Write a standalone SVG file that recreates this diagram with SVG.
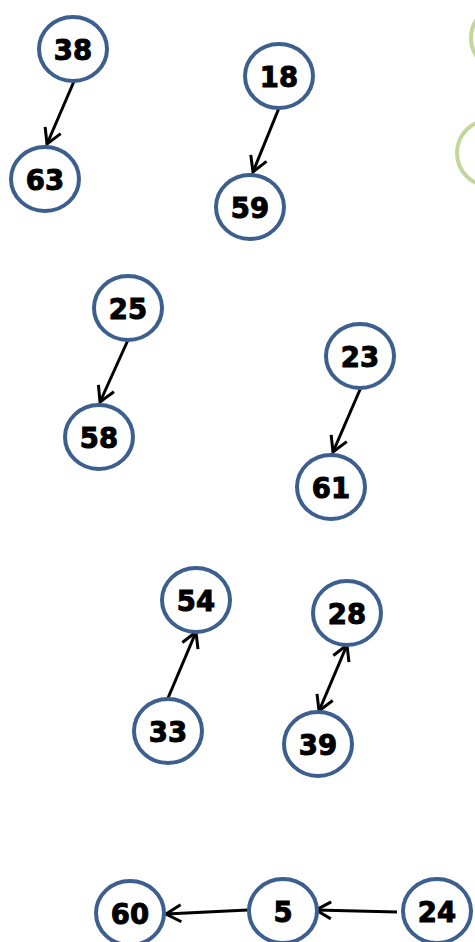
<svg xmlns="http://www.w3.org/2000/svg" width="475" height="942" viewBox="0 0 475 942">
<style>
.n ellipse{fill:#fff;stroke:#3c5f8f;stroke-width:4}
.n text{font-family:"DejaVu Sans",Verdana,sans-serif;font-weight:bold;font-size:27.5px;fill:#000;stroke:#000;stroke-width:1;text-anchor:middle;dominant-baseline:central}
.g{fill:none;stroke:#c3d69b;stroke-width:4}
.e line{stroke:#000;stroke-width:3;marker-end:url(#ah)}
</style>
<defs>
<marker id="ah" markerUnits="userSpaceOnUse" viewBox="0 0 20 20" refX="18" refY="10" markerWidth="20" markerHeight="20" orient="auto-start-reverse">
<path d="M3,1.5 L18,10 L3,18.5" fill="none" stroke="#000" stroke-width="3" stroke-linejoin="miter"/>
</marker>
</defs>
<rect width="475" height="942" fill="#fff"/>
<circle class="g" cx="504" cy="38" r="33"/>
<circle class="g" cx="490" cy="153" r="33"/>
<g class="e" id="connectors">
<line x1="75" y1="79" x2="47" y2="144"/>
<line x1="279" y1="108" x2="253" y2="172"/>
<line x1="128" y1="340" x2="100" y2="402"/>
<line x1="362" y1="385" x2="333" y2="452"/>
<line x1="168" y1="698" x2="196" y2="632"/>
<line x1="347" y1="645" x2="319" y2="711" style="marker-start:url(#ah)"/>
<line x1="248" y1="910" x2="166" y2="914"/>
<line x1="397" y1="912" x2="316" y2="910"/>
</g>
<g class="n" id="n38"><ellipse cx="73" cy="49" rx="34" ry="32"/><text x="73" y="50">38</text></g>
<g class="n" id="n63"><ellipse cx="45" cy="179" rx="34" ry="32"/><text x="45" y="180">63</text></g>
<g class="n" id="n18"><ellipse cx="279" cy="76" rx="34" ry="32"/><text x="279" y="77">18</text></g>
<g class="n" id="n59"><ellipse cx="250" cy="207" rx="34" ry="32"/><text x="250" y="208">59</text></g>
<g class="n" id="n25"><ellipse cx="128" cy="308" rx="34" ry="32"/><text x="128" y="309">25</text></g>
<g class="n" id="n58"><ellipse cx="99" cy="437" rx="34" ry="32"/><text x="99" y="438">58</text></g>
<g class="n" id="n23"><ellipse cx="360" cy="356" rx="34" ry="32"/><text x="360" y="357">23</text></g>
<g class="n" id="n61"><ellipse cx="331" cy="487" rx="34" ry="32"/><text x="331" y="488">61</text></g>
<g class="n" id="n54"><ellipse cx="196" cy="600" rx="34" ry="32"/><text x="196" y="601">54</text></g>
<g class="n" id="n33"><ellipse cx="168" cy="731" rx="34" ry="32"/><text x="168" y="732">33</text></g>
<g class="n" id="n28"><ellipse cx="347" cy="613" rx="34" ry="32"/><text x="347" y="614">28</text></g>
<g class="n" id="n39"><ellipse cx="318" cy="744" rx="34" ry="32"/><text x="318" y="745">39</text></g>
<g class="n" id="n60"><ellipse cx="130" cy="913" rx="34" ry="32"/><text x="130" y="914">60</text></g>
<g class="n" id="n5"><ellipse cx="283" cy="911" rx="34" ry="32"/><text x="283" y="912">5</text></g>
<g class="n" id="n24"><ellipse cx="437" cy="911" rx="34" ry="32"/><text x="437" y="912">24</text></g>
</svg>
